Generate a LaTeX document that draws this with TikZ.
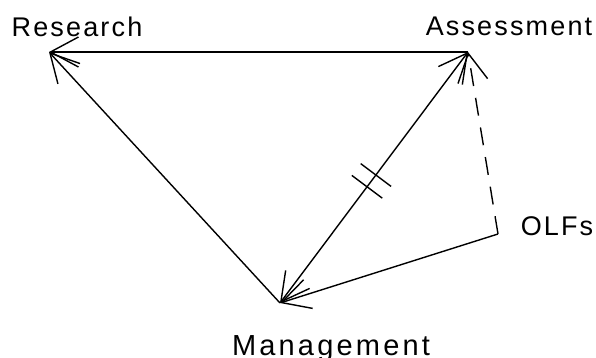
\documentclass[tikz,border=0pt]{standalone}
\usepackage{fontspec}
\setmainfont{Liberation Sans}
\usepackage{tikz}
\usetikzlibrary{arrows.meta,calc}
\definecolor{ink}{HTML}{000000}
\tikzset{
  placelabel/.style={
    font=\fontsize{27}{32}\selectfont\addfontfeature{LetterSpace=8},
    text=ink,
    inner sep=0pt,
    anchor=base
  },
  widelabel/.style={
    placelabel,
    font=\fontsize{29}{34}\selectfont\addfontfeature{LetterSpace=11}
  },
  linkarrow/.style={-{Straight Barb[length=28pt,width=30pt]},line width=1.4pt,draw=ink},
  botharrow/.style={{Straight Barb[length=28pt,width=30pt]}-{Straight Barb[length=28pt,width=30pt]},line width=1.4pt,draw=ink},
  dasharrow/.style={linkarrow,dash pattern=on 18pt off 12pt},
  tickmark/.style={line width=1.4pt,draw=ink}
}

\begin{document}
\begin{tikzpicture}[x=1pt,y=-1pt]
  \useasboundingbox (0,0) rectangle (596,358);
  % corners of the triangle
  \coordinate (res) at (49,52);
  \coordinate (ass) at (468,52);
  \coordinate (mgt) at (280,303);
  \coordinate (olf) at (498,234);
  % labels
  \node[placelabel] (reslabel) at (77,37) {Research};
  \node[placelabel] (asslabel) at (509,36) {Assessment};
  \node[placelabel] (olflabel) at (557,235) {OLFs};
  \node[widelabel] (mgtlabel) at (331,355) {Management};
  % links
  \draw[linkarrow] (ass) -- (res);
  \draw[linkarrow] (mgt) -- (res);
  \draw[botharrow] (ass) -- coordinate[pos=0.49] (t1) coordinate[pos=0.537] (t2) (mgt);
  \draw[linkarrow] (olf) -- (mgt);
  \draw[dasharrow] (olf) -- (ass);
  \draw[tickmark] ($(t1)!19pt!90:(ass)$) -- ($(t1)!19pt!-90:(ass)$);
  \draw[tickmark] ($(t2)!19pt!90:(ass)$) -- ($(t2)!19pt!-90:(ass)$);
\end{tikzpicture}
\end{document}
